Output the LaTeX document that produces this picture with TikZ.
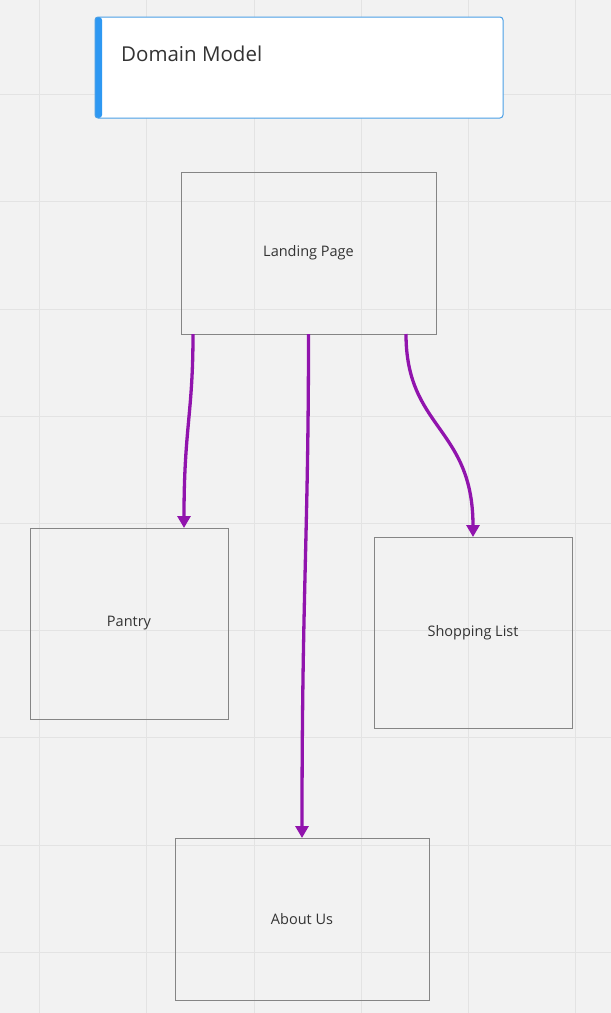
\documentclass[tikz,border=0pt]{standalone}
\usepackage{fontspec}
\setmainfont{Open Sans}
\usetikzlibrary{arrows.meta}
\definecolor{boardbg}{HTML}{F2F2F2}
\definecolor{gridline}{HTML}{E3E3E3}
\definecolor{boxline}{HTML}{858585}
\definecolor{linkpurple}{HTML}{9114AD}
\definecolor{titleblue}{HTML}{4A9FE6}
\definecolor{barblue}{HTML}{2E98F2}
\definecolor{labeltext}{HTML}{333333}

\begin{document}
\begin{tikzpicture}[x=1pt, y=-1pt,
    page/.style={draw=boxline, line width=0.9pt, inner sep=0pt, outer sep=0pt,
      text=labeltext, font=\fontsize{14.5}{17}\selectfont},
    titlebox/.style={draw=titleblue, fill=white, line width=1pt, rounded corners=3pt,
      inner sep=0pt, outer sep=0pt, minimum width=408pt, minimum height=101pt},
    link/.style={draw=linkpurple, line width=3.3pt, -{Triangle[length=12pt, width=13pt]}}]

    % board with grid
    \fill[boardbg] (0,0) rectangle (611,1013);
    \useasboundingbox (0,0) rectangle (611,1013);
    \foreach \gx in {39.5,146.7,253.9,361.1,468.3,575.5}
      \draw[gridline, line width=0.8pt] (\gx,0) -- (\gx,1013);
    \foreach \gy in {94.5,201.7,308.9,416.1,523.3,630.5,737.7,844.9,952.1}
      \draw[gridline, line width=0.8pt] (0,\gy) -- (611,\gy);

    % title card
    \node[titlebox, path picture={\fill[barblue] (path picture bounding box.north west)
      rectangle ([xshift=7pt]path picture bounding box.south west);}] (title) at (299,67.5) {};
    \node[anchor=base west, text=labeltext, inner sep=0pt,
      font=\fontsize{20.5}{24}\selectfont] (titletext) at ([xshift=26pt, yshift=-44pt]title.north west) {Domain Model};

    % pages
    \node[page, minimum width=255pt, minimum height=162pt] (landing) at (308.5,253) {Landing Page};
    \node[page, minimum width=198pt, minimum height=191pt] (pantry) at (129,623.5) {Pantry};
    \node[page, minimum width=198pt, minimum height=191pt] (shopping) at (473,632.5) {Shopping List};
    \node[page, minimum width=254pt, minimum height=162pt] (about) at (302,919) {About Us};

    % links
    \draw[link] ([xshift=12pt]landing.south west) .. controls ([xshift=12pt, yshift=-80pt]landing.south west)
      and ([xshift=55pt, yshift=100pt]pantry.north) .. ([xshift=55pt]pantry.north);
    \draw[link] (landing.south) .. controls ([yshift=-200pt]landing.south) and ([yshift=250pt]about.north) .. (about.north);
    \draw[link] ([xshift=-30pt]landing.south east) .. controls ([xshift=-30pt, yshift=-95pt]landing.south east)
      and ([yshift=110pt]shopping.north) .. (shopping.north);

\end{tikzpicture}
\end{document}
